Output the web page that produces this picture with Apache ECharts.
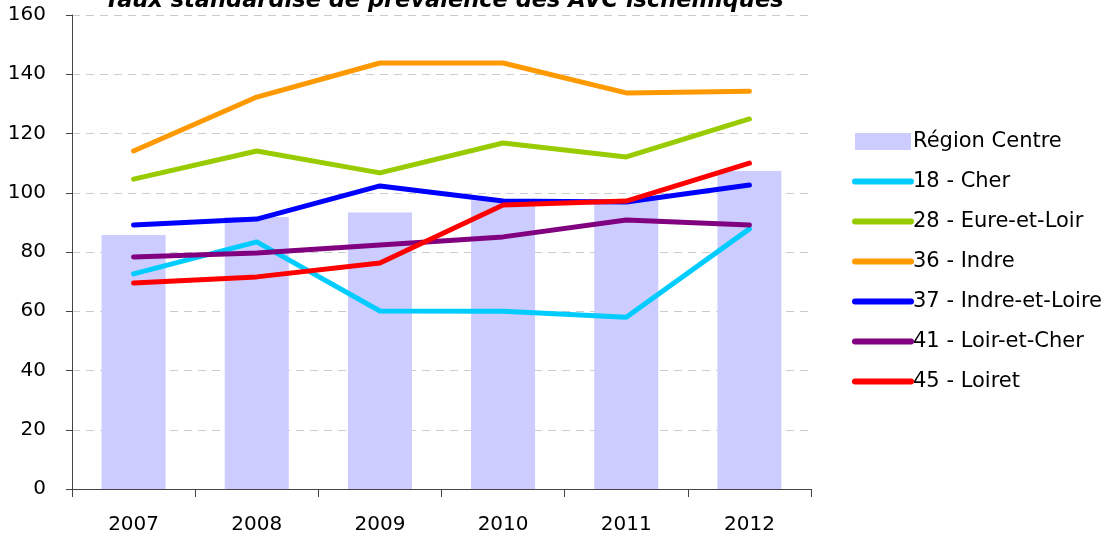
<!DOCTYPE html>
<html>
<head>
<meta charset="utf-8">
<script src="https://cdn.jsdelivr.net/npm/echarts@6/dist/echarts.min.js"></script>
<style>
html,body{margin:0;padding:0;background:#fff;}
#chart{width:1108px;height:542px;}
</style>
</head>
<body>
<div id="chart"></div>
<script>
const titleText = "Taux standardisé de prévalence des AVC ischémiques";
const years = ["2007", "2008", "2009", "2010", "2011", "2012"];
const regionCentre = [85.7, 91.8, 93.3, 97.5, 97.5, 107.3];
const cher = [72.6, 83.4, 60.1, 60.0, 58.0, 87.8];
const eureEtLoir = [104.6, 114.1, 106.7, 116.8, 112.1, 124.9];
const indre = [114.1, 132.3, 143.8, 143.8, 133.7, 134.3];
const indreEtLoire = [89.1, 91.1, 102.3, 97.2, 96.9, 102.6];
const loirEtCher = [78.3, 79.7, 82.4, 85.1, 90.8, 89.1];
const loiret = [69.5, 71.6, 76.3, 95.9, 97.2, 110.0];

const FONT = "DejaVu Sans";
const lineSeries = [
  { name: "18 - Cher", data: cher, color: "#00ccff" },
  { name: "28 - Eure-et-Loir", data: eureEtLoir, color: "#99cc00" },
  { name: "36 - Indre", data: indre, color: "#ff9900" },
  { name: "37 - Indre-et-Loire", data: indreEtLoire, color: "#0000ff" },
  { name: "41 - Loir-et-Cher", data: loirEtCher, color: "#800080" },
  { name: "45 - Loiret", data: loiret, color: "#ff0000" }
];

const chart = echarts.init(document.getElementById("chart"), null, { renderer: "canvas" });
chart.setOption({
  animation: false,
  backgroundColor: "#ffffff",
  title: {
    text: titleText,
    left: 439,
    textAlign: "center",
    top: -15,
    textStyle: { fontFamily: FONT, fontSize: 22.5, fontWeight: "bold", fontStyle: "italic", color: "#000" }
  },
  grid: { left: 72, right: 297, top: 15, bottom: 53, containLabel: false },
  legend: {
    orient: "vertical",
    left: 847,
    top: 126,
    itemWidth: 56,
    itemHeight: 17,
    itemGap: 19,
    textStyle: { fontFamily: FONT, fontSize: 21, lineHeight: 20, color: "#000", padding: [0, 0, 0, -3] },
    data: [
      { name: "Région Centre", icon: "rect" },
      ...lineSeries.map(s => ({
        name: s.name,
        itemStyle: { opacity: 0 },
        lineStyle: { color: s.color, width: 6, cap: "round" }
      }))
    ]
  },
  xAxis: {
    type: "category",
    data: years,
    boundaryGap: true,
    axisLine: { lineStyle: { color: "#444", width: 1 } },
    axisTick: { show: true, length: 8, lineStyle: { color: "#444" } },
    axisLabel: { color: "#000", fontFamily: FONT, fontSize: 20, margin: 26 },
    splitLine: { show: false }
  },
  yAxis: {
    type: "value",
    min: 0,
    max: 160,
    interval: 20,
    axisLine: { show: true, lineStyle: { color: "#444", width: 1 } },
    axisTick: { show: true, length: 6, lineStyle: { color: "#444" } },
    axisLabel: { color: "#000", fontFamily: FONT, fontSize: 20, margin: 26 },
    splitLine: { show: true, lineStyle: { color: "#cccccc", type: [8, 6], width: 1 } }
  },
  series: [
    {
      name: "Région Centre",
      type: "bar",
      data: regionCentre,
      barWidth: "52%",
      itemStyle: { color: "#ccccff" },
      z: 1
    },
    ...lineSeries.map(s => ({
      name: s.name,
      type: "line",
      data: s.data,
      symbol: "none",
      color: s.color,
      lineStyle: { color: s.color, width: 5, cap: "round", join: "round" },
      z: 2
    }))
  ]
});
</script>
</body>
</html>
